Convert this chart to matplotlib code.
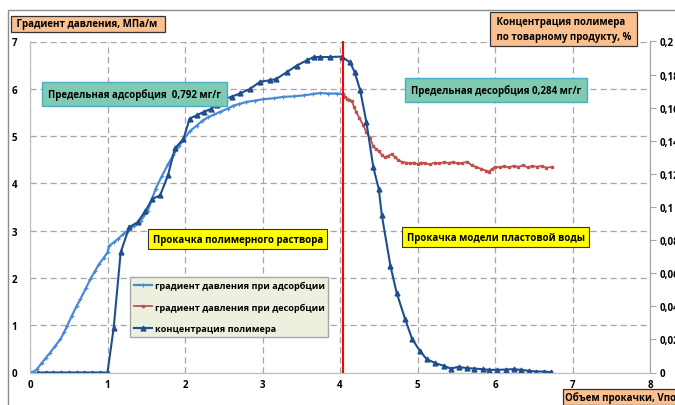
import matplotlib
matplotlib.use("Agg")
import matplotlib.pyplot as plt
from matplotlib.patches import Rectangle

plt.rcParams["font.family"] = ["Open Sans", "DejaVu Sans"]

# градиент давления при адсорбции, МПа/м
ads_x = [0.0, 0.05, 0.09, 0.15, 0.2, 0.26, 0.32, 0.39, 0.44, 0.48, 0.54, 0.6, 0.65, 0.72,
         0.78, 0.84, 0.89, 0.95, 1.0, 1.02, 1.08, 1.13, 1.2, 1.26, 1.34, 1.43, 1.52, 1.57,
         1.62, 1.7, 1.78, 1.85, 1.92, 1.98, 2.06, 2.15, 2.22, 2.3, 2.38, 2.45, 2.55, 2.62,
         2.7, 2.79, 2.9, 3.01, 3.15, 3.27, 3.4, 3.53, 3.65, 3.74, 3.85, 3.96, 4.04]
ads_y = [0.0, 0.02, 0.07, 0.2, 0.3, 0.42, 0.55, 0.7, 0.85, 0.99, 1.2, 1.4, 1.55, 1.78,
         1.98, 2.15, 2.29, 2.42, 2.54, 2.68, 2.75, 2.82, 2.92, 3.0, 3.1, 3.21, 3.42, 3.65,
         3.88, 4.15, 4.4, 4.6, 4.78, 4.92, 5.1, 5.22, 5.32, 5.4, 5.46, 5.51, 5.58, 5.64,
         5.68, 5.72, 5.75, 5.78, 5.8, 5.83, 5.84, 5.86, 5.89, 5.91, 5.9, 5.9, 5.88]

# градиент давления при десорбции, МПа/м
des_x = [4.04, 4.07, 4.09, 4.12, 4.15, 4.18, 4.21, 4.25, 4.3, 4.34, 4.39, 4.43, 4.47, 4.5,
         4.54, 4.58, 4.62, 4.67, 4.71, 4.75, 4.8, 4.85, 4.9, 4.95, 5.0, 5.05, 5.1, 5.16,
         5.22, 5.28, 5.34, 5.4, 5.46, 5.52, 5.58, 5.64, 5.7, 5.76, 5.82, 5.88, 5.92, 5.96,
         6.0, 6.06, 6.12, 6.18, 6.24, 6.3, 6.36, 6.42, 6.48, 6.54, 6.6, 6.66, 6.74]
des_y = [5.88, 5.82, 5.79, 5.76, 5.75, 5.62, 5.51, 5.38, 5.23, 5.08, 4.95, 4.78, 4.72, 4.68,
         4.6, 4.55, 4.58, 4.62, 4.55, 4.5, 4.45, 4.44, 4.42, 4.44, 4.41, 4.44, 4.42, 4.4,
         4.44, 4.42, 4.45, 4.43, 4.45, 4.42, 4.43, 4.46, 4.38, 4.34, 4.31, 4.27, 4.25, 4.3,
         4.35, 4.34, 4.36, 4.34, 4.37, 4.35, 4.38, 4.34, 4.37, 4.35, 4.37, 4.33, 4.35]

# концентрация полимера по товарному продукту, %
conc_x = [0.1, 0.2, 0.3, 0.4, 0.5, 0.6, 0.7, 0.8, 0.9, 1.0, 1.08, 1.17, 1.28, 1.39, 1.49,
          1.58, 1.68, 1.78, 1.87, 1.98, 2.06, 2.15, 2.24, 2.34, 2.41, 2.52, 2.6, 2.71, 2.84,
          2.97, 3.1, 3.18, 3.31, 3.44, 3.57, 3.66, 3.74, 3.87, 4.02, 4.13, 4.19, 4.26, 4.34,
          4.43, 4.5, 4.54, 4.65, 4.73, 4.84, 4.93, 5.03, 5.12, 5.23, 5.34, 5.43, 5.53, 5.64,
          5.73, 5.84, 5.92, 6.03, 6.14, 6.24, 6.33, 6.44, 6.53, 6.63, 6.72]
conc_y = [0, 0, 0, 0, 0, 0, 0, 0, 0, 0, 0.0271, 0.0726, 0.0877, 0.0909, 0.0977,
          0.1049, 0.1071, 0.1191, 0.1354, 0.1411, 0.1534, 0.1554, 0.1574, 0.1594, 0.1617,
          0.1654, 0.1666, 0.1686, 0.1714, 0.1757, 0.1766, 0.1774, 0.1814, 0.1854, 0.1886,
          0.1906, 0.1906, 0.1906, 0.1909, 0.1874, 0.1814, 0.1706, 0.1514, 0.124, 0.1109,
          0.0949, 0.0646, 0.0483, 0.0323, 0.0203, 0.0131, 0.008, 0.0057, 0.004, 0.0024,
          0.0034, 0.0026, 0.0024, 0.002, 0.0016, 0.0016, 0.0018, 0.002, 0.0016, 0.001,
          0.0006, 0.0006, 0.0002]

switch_x = 4.04  # переход на закачку воды

x_ticks = [0, 1, 2, 3, 4, 5, 6, 7, 8]
left_ticks = [0, 1, 2, 3, 4, 5, 6, 7]
right_ticks = [0, 0.02, 0.04, 0.06, 0.08, 0.1, 0.12, 0.14, 0.16, 0.18, 0.2]
right_labels = ["0", "0,02", "0,04", "0,06", "0,08", "0,1", "0,12", "0,14", "0,16", "0,18", "0,2"]

labels = ["градиент давления при адсорбции",
          "градиент давления при десорбции",
          "концентрация полимера"]

W, H = 675, 406
fig = plt.figure(figsize=(W / 100, H / 100), dpi=100)
ax = fig.add_axes([30 / W, (H - 373.5) / H, 620 / W, 331 / H])
ax2 = ax.twinx()

grid_kw = dict(color="#a6a6a6", lw=0.9, ls=(0, (5, 3)))
ax.set_xlim(0, 8)
ax.set_ylim(0, 7)
ax.set_xticks(x_ticks)
ax.set_yticks(left_ticks)
ax.grid(True, **grid_kw)
ax.set_axisbelow(True)
ax.tick_params(length=0, labelsize=7)
ax.tick_params(axis="y", pad=9)
ax.tick_params(axis="x", pad=5)
for lab in ax.get_xticklabels() + ax.get_yticklabels():
    lab.set_fontweight("bold")

ax2.set_ylim(0, 0.2)
ax2.set_yticks(right_ticks)
ax2.set_yticklabels(right_labels, fontweight="bold", fontsize=7)
ax2.tick_params(axis="y", length=4, color="#a6a6a6", pad=3)

for a in (ax, ax2):
    a.spines["top"].set_visible(False)
    a.spines["left"].set_color("#bfbfbf")
    a.spines["bottom"].set_color("#bfbfbf")
    a.spines["right"].set_color("#a6a6a6")

l1, = ax.plot(ads_x, ads_y, color="#4a8ad4", lw=1.6, marker="+", ms=3, mew=0.8)
l2, = ax.plot(des_x, des_y, color="#c0504d", lw=1.3, marker="s", ms=2)
l3, = ax2.plot(conc_x, conc_y, color="#1f4e8c", lw=1.5, marker="^", ms=3.5)
ax2.axvline(switch_x, color="red", lw=1.5, zorder=4)

# подписи на поле графика
teal = dict(boxstyle="square,pad=0.6", fc="#7fcbb2", ec="#4bacc6", lw=1)
yellow = dict(boxstyle="square,pad=0.45", fc="#ffff00", ec="#333333", lw=0.8)
ax2.text(1.35, 5.89, "Предельная адсорбция  0,792 мг/г", transform=ax.transData,
         ha="center", va="center", fontsize=7, fontweight="bold", bbox=teal, zorder=6)
ax2.text(6.01, 5.97, "Предельная десорбция 0,284 мг/г", transform=ax.transData,
         ha="center", va="center", fontsize=7, fontweight="bold", bbox=teal, zorder=6)
ax2.text(2.68, 2.82, "Прокачка полимерного раствора", transform=ax.transData,
         ha="center", va="center", fontsize=7, fontweight="bold", bbox=yellow, zorder=6)
ax2.text(6.01, 2.86, "Прокачка модели пластовой воды", transform=ax.transData,
         ha="center", va="center", fontsize=7, fontweight="bold", bbox=yellow, zorder=6)

leg = ax2.legend([l1, l2, l3], labels, loc="upper left",
                 bbox_to_anchor=(130 / W, 1 - 278 / H), bbox_transform=fig.transFigure,
                 borderaxespad=0, fontsize=6.6, labelspacing=1.35, handlelength=2.0,
                 handletextpad=0.3, fancybox=False, framealpha=1)
leg.get_frame().set_facecolor("#ebf1de")
leg.get_frame().set_edgecolor("#a6a6a6")
for t in leg.get_texts():
    t.set_fontweight("bold")

# заголовки осей в рамках
orange = dict(boxstyle="square,pad=0.3", fc="#fac090", ec="#333333", lw=0.9)
fig.text(14 / W, 1 - 25 / H, " Градиент давления, МПа/м  ", ha="left", va="center",
         fontsize=7, fontweight="bold", bbox=orange)
fig.text(494 / W, 1 - 30 / H, " Концентрация полимера   \n по товарному продукту, %",
         ha="left", va="center", fontsize=7, fontweight="bold", linespacing=1.45,
         bbox=dict(orange, boxstyle="square,pad=0.4"))
fig.text(565 / W, 1 - 398 / H, "Объем прокачки, Vпор", ha="left", va="center",
         fontsize=7, fontweight="bold", bbox=dict(orange, boxstyle="square,pad=0.2"))

# рамка области диаграммы
fig.patches.append(Rectangle((8 / W, -0.05), 1.1, 1.05 - 11 / H, transform=fig.transFigure,
                             fill=False, ec="#8c8c8c", lw=1))

fig.savefig("out.png", dpi=100, facecolor="white")
